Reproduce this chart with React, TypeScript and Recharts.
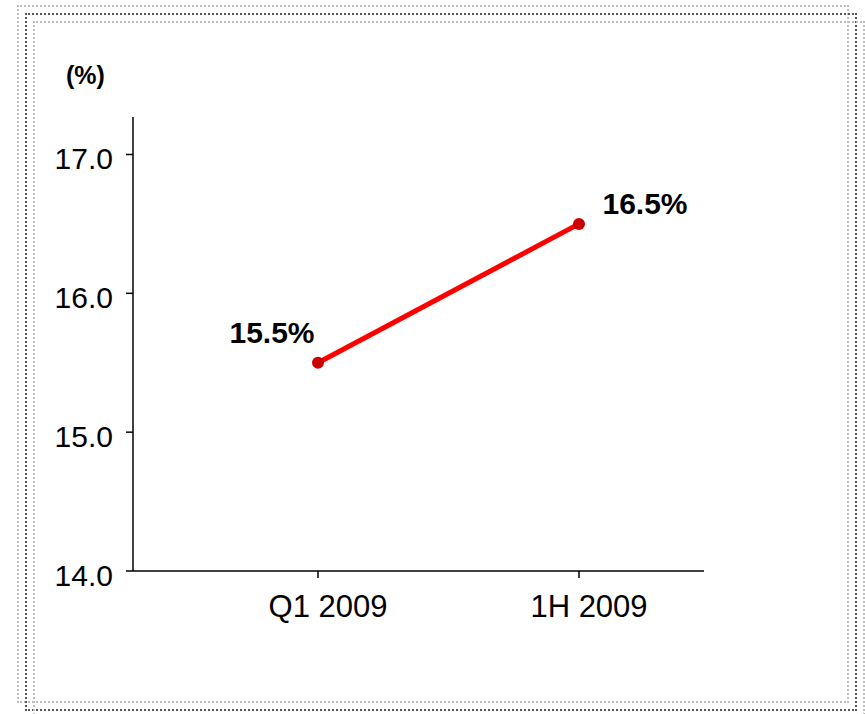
import React from "react"
import { LineChart, Line, XAxis, YAxis, LabelList } from "recharts"

// return on equity by period
const periods = ["Q1 2009", "1H 2009"]
const roeValues = [15.5, 16.5]
const yTicks = [14, 15, 16, 17]

const data = periods.map((period, i) => ({ period, roe: roeValues[i] }))

const FONT = "'Liberation Sans', Arial, sans-serif"

// value labels sit up-left of the first point and up-right of the second
function PointLabel(props: any) {
  const { x, y, value, index } = props
  const left = index === 0
  return (
    <text
      x={left ? x - 46 : x + 66}
      y={left ? y - 30 : y - 20}
      textAnchor="middle"
      dominantBaseline="central"
      fontFamily={FONT}
      fontSize={30}
      fontWeight="bold"
      fill="#000"
    >
      {value.toFixed(1)}%
    </text>
  )
}

const frame = (left: number, top: number, right: number, bottom: number, color: string): React.CSSProperties => ({
  position: "absolute",
  left,
  top,
  width: right - left,
  height: bottom - top,
  border: `2px dotted ${color}`,
  boxSizing: "border-box",
})

export default function App() {
  return (
    <div
      style={{
        position: "absolute",
        left: 0,
        top: 0,
        width: 865,
        height: 714,
        background: "#fff",
        overflow: "hidden",
        fontFamily: FONT,
      }}
    >
      <div style={frame(17, 5, 849, 703, "#bdbdbd")} />
      <div style={frame(25, 13, 857, 711, "#555")} />
      <div style={frame(33, 21, 865, 719, "#bdbdbd")} />
      <div
        style={{
          position: "absolute",
          left: 66,
          top: 61,
          fontSize: 25,
          fontWeight: "bold",
          color: "#000",
        }}
      >
        (%)
      </div>
      <div style={{ position: "absolute", left: 0, top: 0 }}>
        <LineChart width={865} height={714} data={data} margin={{ top: 117, right: 161, bottom: 0, left: 0 }}>
          <XAxis
            dataKey="period"
            height={143}
            padding={{ left: 185, right: 125 }}
            axisLine={{ stroke: "#000", strokeWidth: 1.5 }}
            tickLine={{ stroke: "#000", strokeWidth: 1.5 }}
            tickSize={7}
            tickMargin={17}
            tick={{ fill: "#000", fontSize: 31, fontFamily: FONT, dx: 10 }}
          />
          <YAxis
            type="number"
            width={133}
            domain={[14, 17.27]}
            ticks={yTicks}
            allowDataOverflow
            tickFormatter={(v: number) => v.toFixed(1)}
            axisLine={{ stroke: "#000", strokeWidth: 1.5 }}
            tickLine={{ stroke: "#000", strokeWidth: 1.5 }}
            tickSize={7}
            tickMargin={13}
            tick={{ fill: "#000", fontSize: 30, fontFamily: FONT, dy: 4 }}
          />
          <Line
            type="linear"
            dataKey="roe"
            stroke="#ff0000"
            strokeWidth={5}
            dot={{ r: 6, fill: "#cc0000", stroke: "none" }}
            activeDot={false}
            isAnimationActive={false}
          >
            <LabelList dataKey="roe" content={PointLabel} />
          </Line>
        </LineChart>
      </div>
    </div>
  )
}
